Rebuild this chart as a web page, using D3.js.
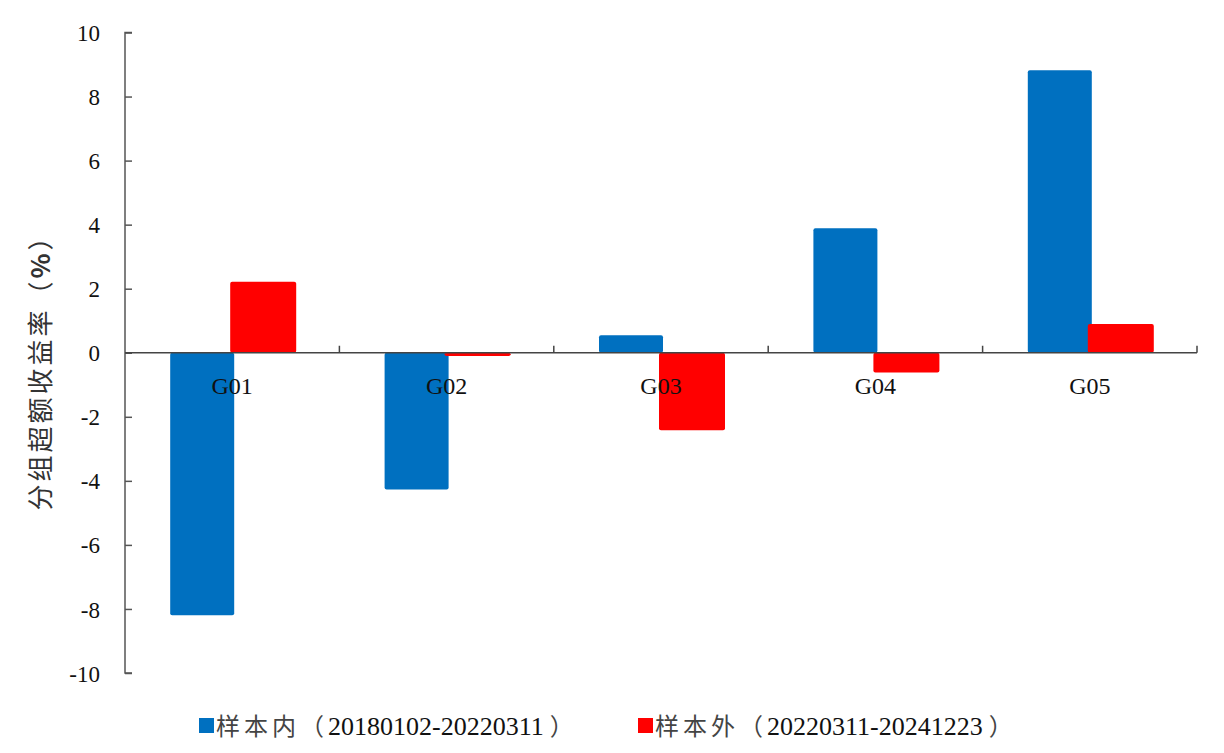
<!DOCTYPE html>
<html><head><meta charset="utf-8">
<script src="https://cdn.jsdelivr.net/npm/d3@7"></script>
<style>body{margin:0;background:#fff}svg{display:block}</style>
</head><body><svg id="c" width="1224" height="753"></svg>
<script>
const categories = ["G01","G02","G03","G04","G05"];
const inSample = [-8.2, -4.27, 0.55, 3.89, 8.82];
const outSample = [2.22, -0.1, -2.42, -0.62, 0.9];
const seriesLabels = ["样本内", "样本外"];
const seriesPeriods = ["20180102-20220311", "20220311-20241223"];
const yTicks = [-10,-8,-6,-4,-2,0,2,4,6,8,10];
const colors = ["#0070C0","#FF0000"];
const font = "'Liberation Serif','Times New Roman','Noto Sans CJK SC',serif";
const cjk = "'Noto Sans CJK SC','Liberation Serif',serif";

const svg = d3.select("#c");
const L = 125, R = 1197, T = 32.5, B = 673;
const y = d3.scaleLinear().domain([-10,10]).range([B,T]);
const x = d3.scaleBand().domain(categories).range([L,R]);
const series = [inSample, outSample];
const offs = [[-62, 2],[-2, 64]];

series.forEach((vals,si)=>{
  svg.append("g").selectAll("rect").data(vals).join("rect")
    .attr("x",(d,i)=>x(categories[i]) + x.bandwidth()/2 + offs[si][0])
    .attr("y",d=>y(Math.max(0,d)))
    .attr("width",offs[si][1]-offs[si][0])
    .attr("height",d=>Math.abs(y(d)-y(0)))
    .attr("rx",2)
    .attr("fill",colors[si]);
});

// y axis
const ya = svg.append("g").attr("transform",`translate(${L},0)`)
  .call(d3.axisRight(y).tickValues(yTicks).tickSize(7).tickFormat(d=>String(d)));
ya.select(".domain").attr("stroke","#555").attr("stroke-width",1.5).attr("d",`M7,${T}H0V${B}H7`);
ya.selectAll(".tick line").attr("stroke","#555").attr("stroke-width",1.5);
ya.selectAll(".tick text").attr("x",-25).attr("text-anchor","end").attr("dy","0.35em")
  .attr("font-family",font).attr("font-size",23).attr("fill","#111");

// x axis at zero
const xa = svg.append("g").attr("transform",`translate(0,${y(0)})`);
xa.append("line").attr("x1",L).attr("x2",R).attr("stroke","#444").attr("stroke-width",1.5);
xa.selectAll("line.t").data(categories).join("line").attr("class","t")
  .attr("x1",d=>x(d)+x.bandwidth()).attr("x2",d=>x(d)+x.bandwidth())
  .attr("y1",0).attr("y2",-7).attr("stroke","#444").attr("stroke-width",1.5);
xa.selectAll("text").data(categories).join("text")
  .attr("x",d=>x(d)+x.bandwidth()/2).attr("y",41)
  .attr("text-anchor","middle").attr("font-family",font).attr("font-size",24).attr("fill","#111")
  .text(d=>d);

// y label
const yl = svg.append("text").attr("transform",`translate(50,366) rotate(-90)`)
  .attr("text-anchor","middle").attr("font-family",cjk).attr("font-size",26).attr("fill","#333")
  .attr("letter-spacing",3);
yl.append("tspan").text("分组超额收益率（");
yl.append("tspan").attr("font-weight","bold").text("%");
yl.append("tspan").text("）");

// legend
const lx = [199, 638];
seriesLabels.forEach((n,i)=>{
  svg.append("rect").attr("x",lx[i]).attr("y",718).attr("width",15).attr("height",15).attr("fill",colors[i]);
  const t = svg.append("text").attr("x",lx[i]+17).attr("y",735).attr("fill","#111");
  t.append("tspan").attr("font-family",cjk).attr("font-size",24).attr("fill","#444").attr("letter-spacing",4).text(n + "（");
  t.append("tspan").attr("font-family",font).attr("font-size",26).text(seriesPeriods[i]);
  t.append("tspan").attr("dx",6).attr("font-family",cjk).attr("font-size",24).attr("fill","#444").text("）");
});
</script></body></html>
